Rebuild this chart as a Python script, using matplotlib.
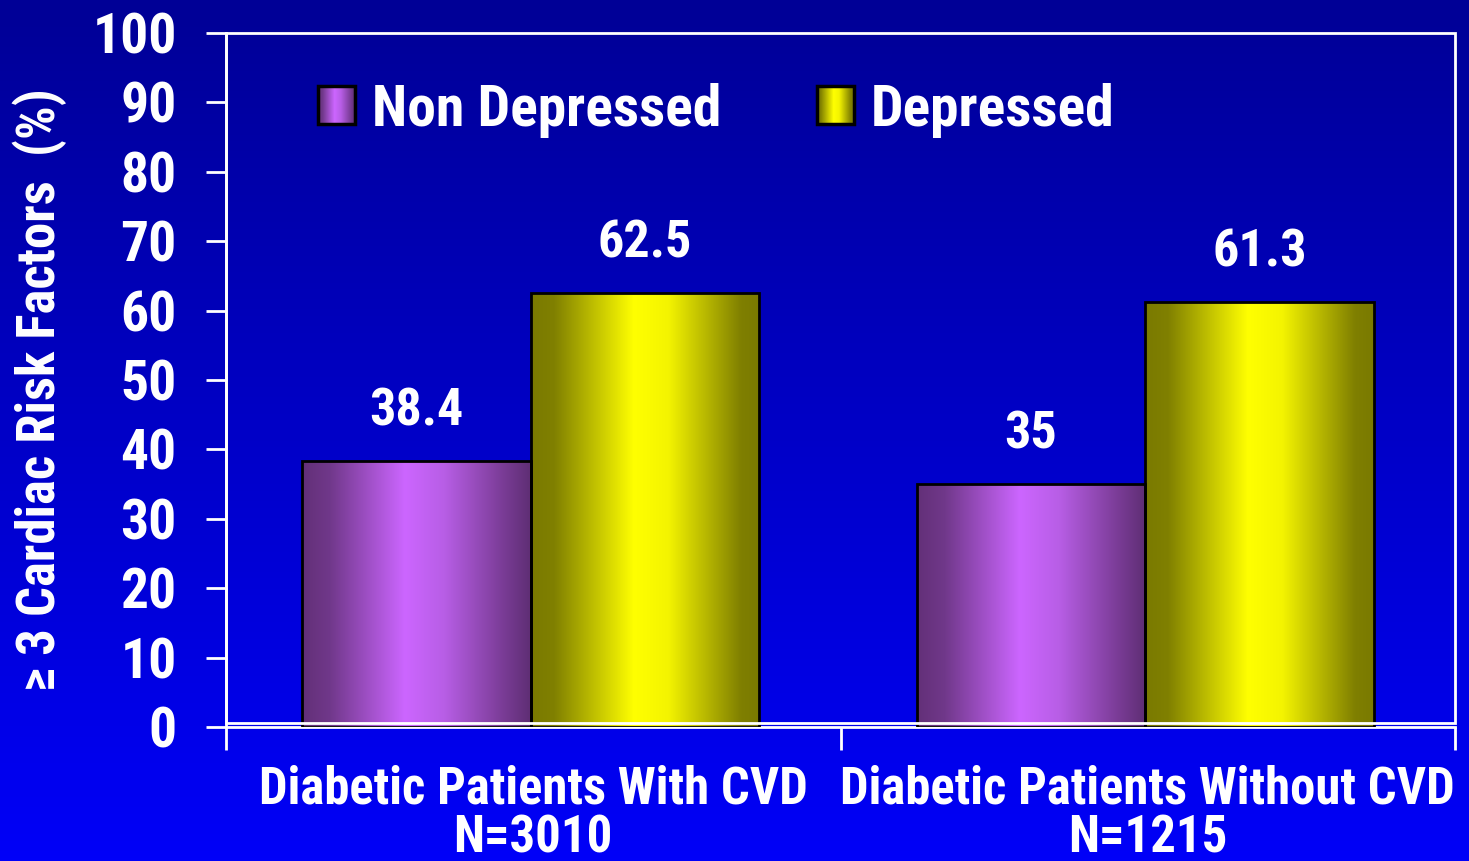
import numpy as np
import matplotlib
matplotlib.use('Agg')
import matplotlib.pyplot as plt
from matplotlib.colors import LinearSegmentedColormap
from matplotlib.patches import Rectangle
from matplotlib.legend_handler import HandlerBase
from matplotlib.image import BboxImage
from matplotlib.transforms import Bbox, TransformedBbox
from matplotlib import font_manager

# データ
categories = ['Diabetic Patients With CVD\nN=3010', 'Diabetic Patients Without CVD\nN=1215']
series_names = ['Non Depressed', 'Depressed']
non_depressed = [38.4, 35]
depressed = [62.5, 61.3]
non_depressed_labels = ['38.4', '35']
depressed_labels = ['62.5', '61.3']
y_ticks = [0, 10, 20, 30, 40, 50, 60, 70, 80, 90, 100]
y_label = '≥ 3 Cardiac Risk Factors  (%)'

# フォント（細めのボールド）
available = {f.name for f in font_manager.fontManager.ttflist}
font = 'DejaVu Sans'
for name in ['Liberation Sans Narrow', 'Arial Narrow', 'Roboto Condensed', 'Archivo Narrow',
             'Liberation Sans']:
    if name in available:
        font = name
        break
plt.rcParams['font.family'] = [font, 'DejaVu Sans']
plt.rcParams['font.weight'] = 'bold'

fig = plt.figure(figsize=(14.69, 8.61), dpi=100)

# 背景グラデーション
bg = fig.add_axes([0, 0, 1, 1], zorder=-10)
bg_cmap = LinearSegmentedColormap.from_list('bg', ['#000096', '#0000F8'])
bg.imshow(np.linspace(0, 1, 256).reshape(-1, 1), aspect='auto', cmap=bg_cmap,
          extent=[0, 1, 0, 1], origin='upper')
bg.axis('off')

ax = fig.add_axes([226 / 1469, 1 - 727 / 861, (1455 - 226) / 1469, (727 - 33) / 861])
ax.set_facecolor('none')

purple_cmap = LinearSegmentedColormap.from_list(
    'purple', [(0, '#633078'), (0.12, '#70388a'), (0.45, '#cc66ff'), (0.62, '#b85ee6'),
               (0.88, '#7a3c96'), (1, '#5f2e74')])
yellow_cmap = LinearSegmentedColormap.from_list(
    'yellow', [(0, '#7a7a00'), (0.1, '#808000'), (0.45, '#ffff00'), (0.6, '#f4f400'),
               (0.92, '#7f7f00'), (1, '#7a7a00')])

x = np.arange(len(categories))
w = 0.372
bars1 = ax.bar(x - 0.19, non_depressed, w, color='none', edgecolor='black', linewidth=2, zorder=3)
bars2 = ax.bar(x + 0.182, depressed, w, color='none', edgecolor='black', linewidth=2, zorder=3)

grad = np.linspace(0, 1, 256).reshape(1, -1)
for bars, cmap in [(bars1, purple_cmap), (bars2, yellow_cmap)]:
    for b in bars:
        bx, by, bw, bh = b.get_x(), b.get_y(), b.get_width(), b.get_height()
        im = ax.imshow(grad, extent=[bx, bx + bw, by, by + bh], cmap=cmap,
                       aspect='auto', zorder=2)
        im.set_clip_path(b)

# 数値ラベル
for bars, labels in [(bars1, non_depressed_labels), (bars2, depressed_labels)]:
    for b, lab in zip(bars, labels):
        ax.text(b.get_x() + b.get_width() / 2, b.get_height() + 5.1, lab,
                ha='center', va='baseline', color='white', fontsize=37.5, fontweight='bold')

ax.set_xlim(-0.5, 1.5)
ax.set_ylim(0, 100)

# プロット領域の枠
ax.add_patch(Rectangle((0, 0.006), 1, 0.994, transform=ax.transAxes, fill=False,
                       edgecolor='white', linewidth=2, zorder=4, clip_on=False))

for s in ['top', 'right']:
    ax.spines[s].set_visible(False)
for s in ['left', 'bottom']:
    ax.spines[s].set_color('white')
    ax.spines[s].set_linewidth(2)

ax.set_yticks(y_ticks)
ax.tick_params(axis='y', colors='white', length=14.5, width=2, pad=21, labelsize=40)
ax.set_xticks([-0.5, 0.5, 1.5])
ax.set_xticklabels([])
ax.tick_params(axis='x', which='major', colors='white', length=16.5, width=2)
ax.set_xticks(x, minor=True)
ax.set_xticklabels(categories, minor=True, fontsize=36.5, fontweight='bold', color='white',
                   linespacing=0.98)
ax.tick_params(axis='x', which='minor', length=0, pad=27)
for t in ax.get_yticklabels():
    t.set_fontweight('bold')

ax.set_ylabel(y_label, fontsize=38, color='white', fontweight='bold')
ax.yaxis.set_label_coords(-0.129, 0.486)


# 凡例（グラデーション付きの四角）
class GradientHandler(HandlerBase):
    def __init__(self, cmap):
        super().__init__()
        self.cmap = cmap

    def create_artists(self, legend, orig_handle, xdescent, ydescent, width, height,
                       fontsize, trans):
        box = Bbox.from_bounds(-xdescent, -ydescent, width, height)
        img = BboxImage(TransformedBbox(box, trans), cmap=self.cmap, interpolation='bilinear')
        img.set_data(grad)
        rect = Rectangle((-xdescent, -ydescent), width, height, facecolor='none',
                         edgecolor='black', linewidth=2.5, transform=trans)
        return [img, rect]


h1 = Rectangle((0, 0), 1, 1)
h2 = Rectangle((0, 0), 1, 1)
ax.legend([h1, h2], series_names, loc='center left', bbox_to_anchor=(0.075, 0.889), ncol=2,
          frameon=False, prop={'size': 41.5, 'weight': 'bold'}, labelcolor='white',
          handlelength=0.64, handleheight=0.64, handletextpad=0.3, columnspacing=1.65,
          borderpad=0, borderaxespad=0,
          handler_map={h1: GradientHandler(purple_cmap), h2: GradientHandler(yellow_cmap)})

fig.savefig('out.png', dpi=100)
